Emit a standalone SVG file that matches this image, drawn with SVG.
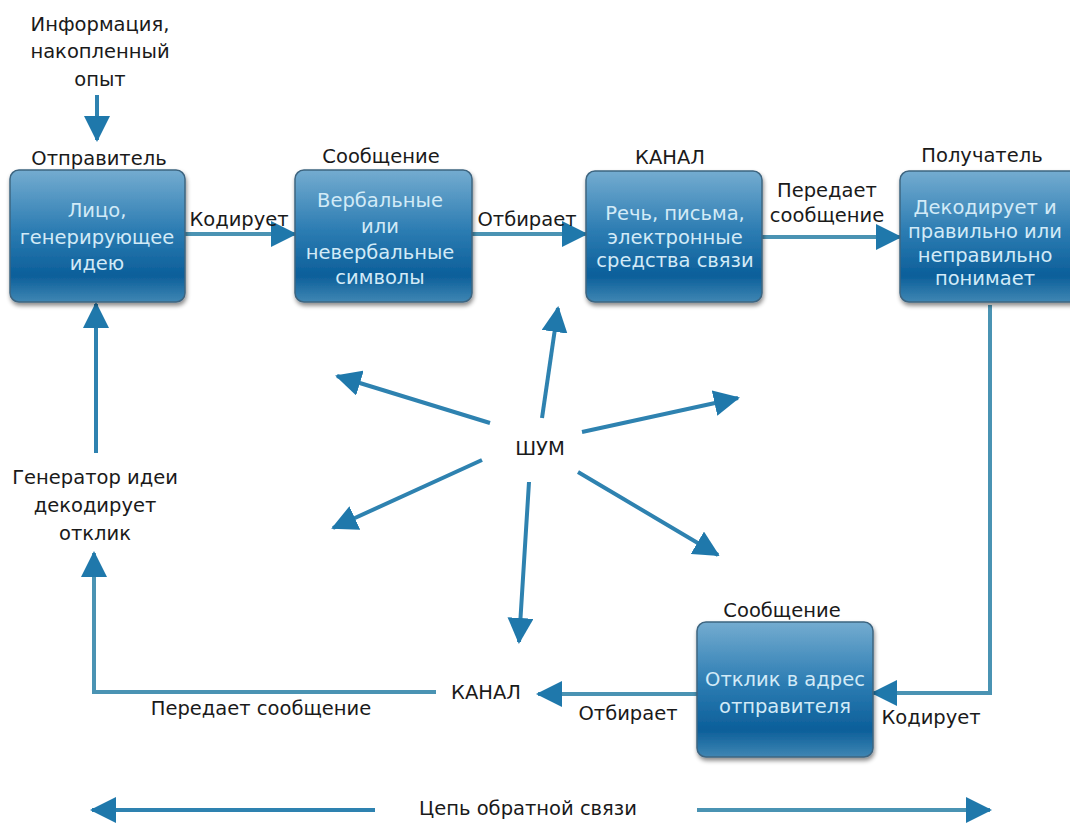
<svg xmlns="http://www.w3.org/2000/svg" width="1070" height="823" viewBox="0 0 1070 823">
<style>
.lbl{font-family:"DejaVu Sans","Liberation Sans",sans-serif;font-size:19.5px;fill:#1a1a1a;text-anchor:middle;dominant-baseline:central}
.bt{font-family:"DejaVu Sans","Liberation Sans",sans-serif;font-size:19.5px;fill:#d2eaf7;text-anchor:middle;dominant-baseline:central}
.box{fill:url(#bg);stroke:#3e6580;stroke-width:1.5}
.ln{fill:none;stroke:#2e82b0;stroke-width:4}
.ln2{fill:none;stroke:#4a93b3;stroke-width:4}
</style>
<defs>
<linearGradient id="bg" x1="0" y1="0" x2="0" y2="1">
<stop offset="0" stop-color="#74acd0"/>
<stop offset="0.45" stop-color="#2d7db3"/>
<stop offset="0.8" stop-color="#0c5f9a"/>
<stop offset="1" stop-color="#3f86b3"/>
</linearGradient>
<filter id="sh" x="-10%" y="-10%" width="130%" height="130%">
<feDropShadow dx="1" dy="3" stdDeviation="2" flood-color="#000" flood-opacity="0.45"/>
</filter>
<marker id="ah" markerUnits="userSpaceOnUse" markerWidth="26" markerHeight="26" refX="24" refY="13" orient="auto" viewBox="0 0 26 26">
<path d="M0,0 L26,13 L0,26 z" fill="#1f78ab"/>
</marker>
</defs>

<g id="connectors">
<line class="ln" x1="97" y1="95" x2="97" y2="140" marker-end="url(#ah)"/>
<line class="ln2" x1="185" y1="234" x2="295" y2="234" marker-end="url(#ah)"/>
<line class="ln2" x1="472" y1="234" x2="586" y2="234" marker-end="url(#ah)"/>
<line class="ln2" x1="762" y1="237" x2="900" y2="237" marker-end="url(#ah)"/>
<polyline class="ln2" points="990,305 990,693 873,693" marker-end="url(#ah)"/>
<line class="ln2" x1="697" y1="694" x2="538" y2="694" marker-end="url(#ah)"/>
<polyline class="ln2" points="436,692 94,692 94,553" marker-end="url(#ah)"/>
<line class="ln" x1="96" y1="453" x2="96" y2="304" marker-end="url(#ah)"/>
<line class="ln" x1="542" y1="418" x2="558" y2="308" marker-end="url(#ah)"/>
<line class="ln" x1="490" y1="423" x2="337" y2="376" marker-end="url(#ah)"/>
<line class="ln" x1="582" y1="432" x2="738" y2="398" marker-end="url(#ah)"/>
<line class="ln" x1="482" y1="460" x2="333" y2="528" marker-end="url(#ah)"/>
<line class="ln" x1="529" y1="482" x2="519" y2="642" marker-end="url(#ah)"/>
<line class="ln" x1="578" y1="472" x2="718" y2="555" marker-end="url(#ah)"/>
<line class="ln" x1="375" y1="810" x2="92" y2="810" marker-end="url(#ah)"/>
<line class="ln2" x1="697" y1="810" x2="990" y2="810" marker-end="url(#ah)"/>
</g>

<g id="info">
<text class="lbl" x="100" y="24">Информация,</text>
<text class="lbl" x="100" y="51">накопленный</text>
<text class="lbl" x="100" y="79">опыт</text>
</g>

<g id="sender">
<text class="lbl" x="99" y="158">Отправитель</text>
<rect class="box" x="10" y="170" width="175" height="132" rx="9" filter="url(#sh)"/>
<text class="bt" x="97" y="210">Лицо,</text>
<text class="bt" x="97" y="237">генерирующее</text>
<text class="bt" x="97" y="263">идею</text>
</g>

<g id="message">
<text class="lbl" x="381" y="156">Сообщение</text>
<rect class="box" x="295" y="170" width="177" height="132" rx="9" filter="url(#sh)"/>
<text class="bt" x="380" y="200">Вербальные</text>
<text class="bt" x="380" y="226">или</text>
<text class="bt" x="380" y="252">невербальные</text>
<text class="bt" x="380" y="277">символы</text>
</g>

<g id="channel">
<text class="lbl" x="670" y="157">КАНАЛ</text>
<rect class="box" x="586" y="171" width="176" height="131" rx="9" filter="url(#sh)"/>
<text class="bt" x="675" y="213">Речь, письма,</text>
<text class="bt" x="675" y="237">электронные</text>
<text class="bt" x="675" y="260">средства связи</text>
</g>

<g id="receiver">
<text class="lbl" x="982" y="155">Получатель</text>
<rect class="box" x="900" y="171" width="185" height="131" rx="9" filter="url(#sh)"/>
<text class="bt" x="985" y="207">Декодирует и</text>
<text class="bt" x="985" y="231">правильно или</text>
<text class="bt" x="985" y="255">неправильно</text>
<text class="bt" x="985" y="278">понимает</text>
</g>

<g id="response">
<text class="lbl" x="782" y="610">Сообщение</text>
<rect class="box" x="697" y="622" width="176" height="135" rx="9" filter="url(#sh)"/>
<text class="bt" x="785" y="679">Отклик в адрес</text>
<text class="bt" x="785" y="706">отправителя</text>
</g>

<g id="labels">
<text class="lbl" x="239" y="219">Кодирует</text>
<text class="lbl" x="527" y="219">Отбирает</text>
<text class="lbl" x="827" y="190">Передает</text>
<text class="lbl" x="827" y="215">сообщение</text>
<text class="lbl" x="540" y="448">ШУМ</text>
<text class="lbl" x="95" y="477">Генератор идеи</text>
<text class="lbl" x="95" y="505">декодирует</text>
<text class="lbl" x="95" y="533">отклик</text>
<text class="lbl" x="486" y="692">КАНАЛ</text>
<text class="lbl" x="261" y="708">Передает сообщение</text>
<text class="lbl" x="628" y="713">Отбирает</text>
<text class="lbl" x="931" y="717">Кодирует</text>
<text class="lbl" x="528" y="808">Цепь обратной связи</text>
</g>
</svg>
